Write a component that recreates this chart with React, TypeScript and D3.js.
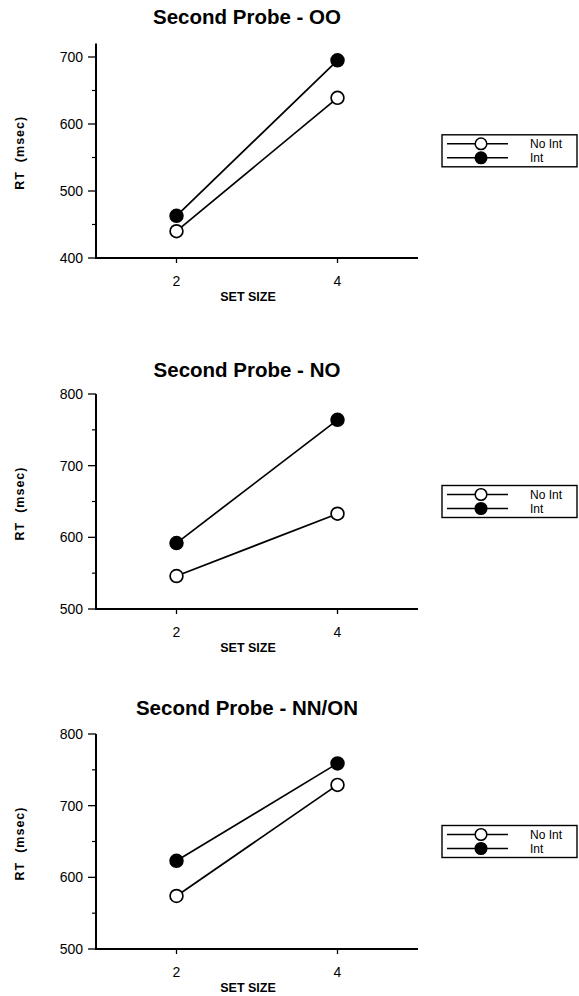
import React from "react";
import * as d3 from "d3";

const setSizes = [2, 4];
const panelTitles = ["Second Probe - OO", "Second Probe - NO", "Second Probe - NN/ON"];
const noIntValues = [
  [440, 639],
  [546, 633],
  [574, 729],
];
const intValues = [
  [463, 695],
  [592, 764],
  [623, 759],
];
const yTickSets = [
  [400, 500, 600, 700],
  [500, 600, 700, 800],
  [500, 600, 700, 800],
];
const yMinorSets = [
  [450, 550, 650],
  [550, 650, 750],
  [550, 650, 750],
];
const yDomains = [
  [400, 700],
  [500, 800],
  [500, 800],
];
const yAxisTops = [720, 800, 800];
const seriesNames = ["No Int", "Int"];

const panelLayout = [
  { bottom: 258, top: 57, titleY: 24 },
  { bottom: 609, top: 394, titleY: 377 },
  { bottom: 949, top: 734, titleY: 715 },
];

const FONT = "'Liberation Sans', Arial, Helvetica, sans-serif";

function Panel({ idx }: { idx: number }) {
  const lay = panelLayout[idx];
  const x = d3.scaleLinear().domain([1, 5]).range([96, 418]);
  const y = d3.scaleLinear().domain(yDomains[idx]).range([lay.bottom, lay.top]);
  const line = d3
    .line<[number, number]>()
    .x((d) => x(d[0]))
    .y((d) => y(d[1]));
  const series = [noIntValues[idx], intValues[idx]];
  const legendMid = (lay.bottom + y(yAxisTops[idx])) / 2;
  const lx0 = 442, lx1 = 577;
  const lTop = legendMid - 16, lBot = legendMid + 16;
  const rowY = [legendMid - 7, legendMid + 7];
  return (
    <g>
      <text
        x={247}
        y={lay.titleY}
        textAnchor="middle"
        fontFamily={FONT}
        fontWeight="bold"
        fontSize={20.5}
      >
        {panelTitles[idx]}
      </text>
      {/* y axis */}
      <line x1={x(1)} x2={x(1)} y1={y(yAxisTops[idx])} y2={lay.bottom} stroke="#000" strokeWidth={2} />
      {yTickSets[idx].map((t) => (
        <g key={t}>
          <line x1={x(1) - 8} x2={x(1)} y1={y(t)} y2={y(t)} stroke="#000" strokeWidth={1.3} />
          <text
            x={x(1) - 13}
            y={y(t)}
            dy="0.35em"
            textAnchor="end"
            fontFamily={FONT}
            fontSize={14}
          >
            {t}
          </text>
        </g>
      ))}
      {yMinorSets[idx].map((t) => (
        <line key={t} x1={x(1) - 4} x2={x(1)} y1={y(t)} y2={y(t)} stroke="#000" strokeWidth={1.2} />
      ))}
      <text
        transform={`translate(24,${(lay.bottom + y(yAxisTops[idx])) / 2 + 2}) rotate(-90)`}
        textAnchor="middle"
        fontFamily={FONT}
        fontWeight="bold"
        fontSize={12.5}
        letterSpacing={1}
        style={{ whiteSpace: "pre" }}
      >
        {"RT  (msec)"}
      </text>
      {/* x axis */}
      <line x1={x(1) - 1} x2={x(5)} y1={lay.bottom} y2={lay.bottom} stroke="#000" strokeWidth={2} />
      {setSizes.map((s) => (
        <g key={s}>
          <line x1={x(s)} x2={x(s)} y1={lay.bottom} y2={lay.bottom + 5} stroke="#000" strokeWidth={1.3} />
          <text
            x={x(s)}
            y={lay.bottom + 28}
            textAnchor="middle"
            fontFamily={FONT}
            fontSize={14}
          >
            {s}
          </text>
        </g>
      ))}
      <text
        x={248}
        y={lay.bottom + 43}
        textAnchor="middle"
        fontFamily={FONT}
        fontWeight="bold"
        fontSize={12.5}
      >
        SET SIZE
      </text>
      {/* series */}
      {series.map((vals, si) => {
        const pts: [number, number][] = setSizes.map((s, i) => [s, vals[i]]);
        return (
          <g key={si}>
            <path d={line(pts) || ""} fill="none" stroke="#000" strokeWidth={1.7} />
            {pts.map((p, i) => (
              <circle
                key={i}
                cx={x(p[0])}
                cy={y(p[1])}
                r={6.4}
                fill={si === 0 ? "#fff" : "#000"}
                stroke="#000"
                strokeWidth={1.7}
              />
            ))}
          </g>
        );
      })}
      {/* legend */}
      <rect x={lx0} y={lTop} width={lx1 - lx0} height={lBot - lTop} fill="none" stroke="#000" strokeWidth={1.4} />
      {seriesNames.map((n, i) => (
        <g key={n}>
          <line x1={447} x2={508} y1={rowY[i]} y2={rowY[i]} stroke="#000" strokeWidth={1.4} />
          <circle
            cx={481}
            cy={rowY[i]}
            r={5.8}
            fill={i === 0 ? "#fff" : "#000"}
            stroke="#000"
            strokeWidth={1.5}
          />
          <text x={530} y={rowY[i]} dy="0.35em" fontFamily={FONT} fontSize={12}>
            {n}
          </text>
        </g>
      ))}
    </g>
  );
}

export default function App() {
  return (
    <svg
      width={579}
      height={996}
      style={{ position: "absolute", left: 0, top: 0, background: "#fff" }}
    >
      <rect x={0} y={0} width={579} height={996} fill="#fff" />
      {[0, 1, 2].map((i) => (
        <Panel key={i} idx={i} />
      ))}
    </svg>
  );
}
